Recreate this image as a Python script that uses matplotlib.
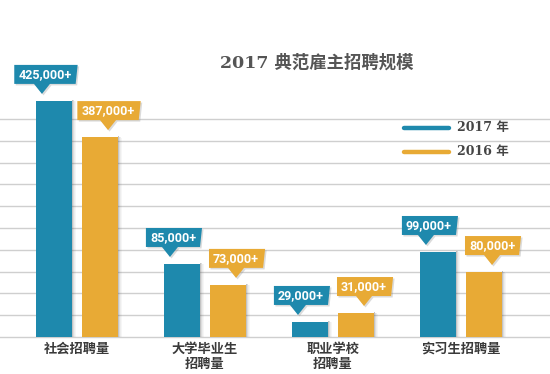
import matplotlib
matplotlib.use('Agg')
from matplotlib import pyplot
from matplotlib import transforms
from matplotlib.patches import Polygon, Rectangle
import numpy

pyplot.rcParams['font.family'] = ['Noto Sans CJK SC', 'DejaVu Sans']

categories = ['社会招聘量', '大学毕业生\n招聘量', '职业学校\n招聘量', '实习生招聘量']
hire_2017 = [425000, 85000, 29000, 99000]
hire_2016 = [387000, 73000, 31000, 80000]
bar_2017 = [10.83, 3.35, 0.69, 3.90]
bar_2016 = [9.17, 2.39, 1.10, 2.98]
years = ['2017 年', '2016 年']

blue = '#1e89ad'
gold = '#e8aa35'
num_font = ['Roboto', 'DejaVu Sans']
serif_cjk = ['DejaVu Serif', 'Noto Sans CJK SC']

fig = pyplot.figure(figsize=(5.5, 3.74), dpi=100)
ax = fig.add_axes([0, 0, 1, 1])
ax.set_xlim(-77 / 128, 473 / 128)
ax.set_ylim(-37 / 21.8, 337 / 21.8)
ax.axis('off')

for k in range(11):
    ax.axhline(k, color='#cfcfcf', lw=1, zorder=0)

x = numpy.arange(len(categories))
off = 0.18
w = 0.281


def px_trans(xd, yd):
    # vertices in pixels, anchored at a data point
    return transforms.Affine2D().scale(1 / 100) + fig.dpi_scale_trans + \
        transforms.ScaledTranslation(xd, yd, ax.transData)


def shadow(xc, h):
    for i, a in enumerate([0.35, 0.2, 0.1, 0.05]):
        ax.add_patch(Rectangle((i, 0), 1.2, h * 21.8 + 1 - i * 0.5, color='#555555', alpha=a,
                               lw=0, transform=px_trans(xc + w / 2, 0), zorder=1))


def callout(xc, top, label, color, tip_dx, box_dx):
    bw = 7.3 * len(label) + 3
    bh = 19
    tx, ty = tip_dx, 7
    cx = tx + box_dx
    bl, br = cx - bw / 2, cx + bw / 2
    yb = ty + 10
    verts = [(tx, ty), (tx - 8, yb), (bl, yb), (bl, yb + bh), (br + 2, yb + bh),
             (br, yb), (tx + 8, yb)]
    tr = px_trans(xc, top)
    ax.add_patch(Polygon([(v[0] + 1.5, v[1] - 1.5) for v in verts], closed=True,
                         color='#888888', alpha=0.3, lw=0, transform=tr, zorder=3))
    ax.add_patch(Polygon(verts, closed=True, color=color, lw=0, transform=tr, zorder=4))
    ax.text(cx, yb + bh / 2, label, transform=tr, ha='center', va='center',
            color='white', fontsize=9, fontweight='bold', family=num_font, zorder=5)


for xs, hs, vals, col, tdx, bdx in [(x - off, bar_2017, hire_2017, blue, -12, 3),
                                    (x + off, bar_2016, hire_2016, gold, 8, 0)]:
    for xc, h in zip(xs, hs):
        shadow(xc, h)
    ax.bar(xs, hs, width=w, color=col, zorder=2)
    for xc, h, v in zip(xs, hs, vals):
        callout(xc, h, f'{v:,}+', col, tdx, bdx)

for xi, cat in zip(x, categories):
    ax.text(xi, -0.22, cat, ha='center', va='top', fontsize=9.5, fontweight='bold',
            color='#3a3a3a', linespacing=1.15)

ax.text(1.875, 12.57, '2017 典范雇主招聘规模', ha='center', va='center', fontsize=12.5,
        fontweight='bold', color='#555555', family=serif_cjk)

for yl, col, name in [(9.59, blue, years[0]), (8.49, gold, years[1])]:
    ax.plot([2.555, 2.906], [yl, yl], color=col, lw=3.2, solid_capstyle='round', zorder=3)
    ax.text(2.969, yl, name, ha='left', va='center', fontsize=9, fontweight='bold',
            color='#444444', family=serif_cjk)

fig.savefig('out.png', dpi=100)
